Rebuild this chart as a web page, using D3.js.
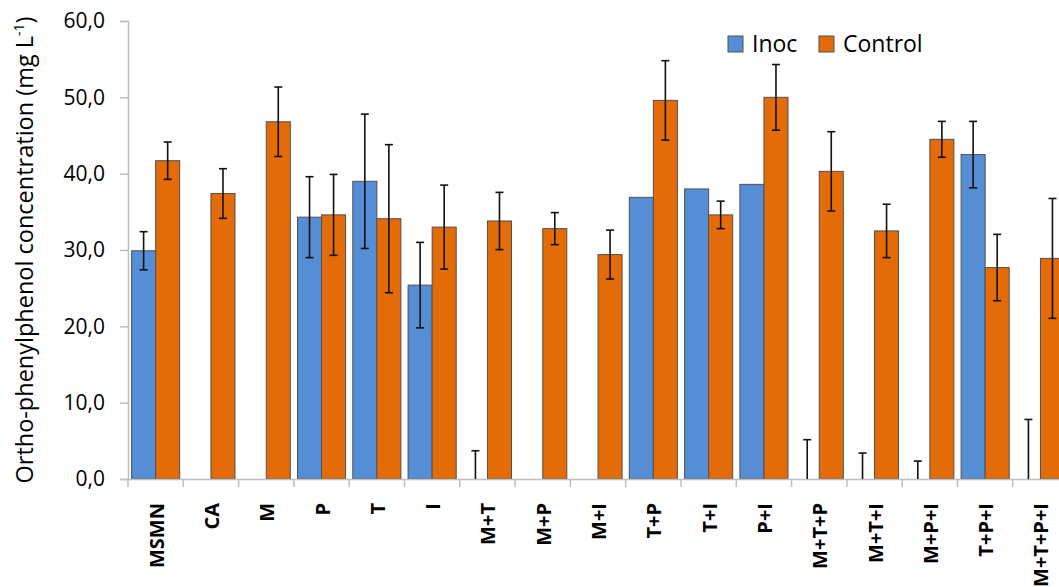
<!DOCTYPE html>
<html>
<head>
<meta charset="utf-8">
<script src="https://cdn.jsdelivr.net/npm/d3@7"></script>
<style>
  body { margin: 0; background: #fff; }
  text { font-family: "Open Sans", "Noto Sans", sans-serif; }
</style>
</head>
<body>
<svg id="chart" width="1059" height="587"></svg>
<script>
const categories = ["MSMN", "CA", "M", "P", "T", "I", "M+T", "M+P", "M+I", "T+P", "T+I", "P+I", "M+T+P", "M+T+I", "M+P+I", "T+P+I", "M+T+P+I"];
const series = ["Inoc", "Control"];
const inocValues = [29.9, 0, 0, 34.3, 39.0, 25.4, 0, 0, 0, 36.9, 38.0, 38.6, 0, 0, 0, 42.5, 0];
const inocErrors = [2.5, 0, 0, 5.3, 8.8, 5.6, 3.7, 0, 0, 0, 0, 0, 5.15, 3.4, 2.35, 4.35, 7.8];
const controlValues = [41.7, 37.4, 46.8, 34.6, 34.1, 33.0, 33.8, 32.8, 29.4, 49.6, 34.6, 50.0, 40.3, 32.5, 44.5, 27.7, 28.9];
const controlErrors = [2.45, 3.25, 4.55, 5.3, 9.7, 5.5, 3.75, 2.1, 3.2, 5.2, 1.8, 4.3, 5.2, 3.5, 2.35, 4.35, 7.85];
const yTicks = [0, 10, 20, 30, 40, 50, 60];

const colors = { Inoc: "#558ed5", Control: "#e36c09" };

const svg = d3.select("#chart");
const plotLeft = 128, plotBottom = 479, plotTop = 21, step = 55.3;

const x = d3.scaleBand()
    .domain(categories)
    .range([plotLeft, plotLeft + step * categories.length])
    .padding(0);

const xs = d3.scaleBand()
    .domain(series)
    .range([0, x.bandwidth()])
    .paddingInner(0)
    .paddingOuter(0.15);

const y = d3.scaleLinear().domain([0, 60]).range([plotBottom, plotTop]);

const fmt = v => d3.format(".1f")(v).replace(".", ",");

// y axis
const yAxis = svg.append("g")
    .attr("transform", `translate(${plotLeft},0)`)
    .call(d3.axisLeft(y).tickValues(yTicks).tickFormat(fmt).tickSize(8).tickPadding(15));
yAxis.select(".domain").attr("stroke", "#bfbfbf").attr("stroke-width", 1.5);
yAxis.selectAll(".tick line").attr("stroke", "#bfbfbf").attr("stroke-width", 1.5);
yAxis.selectAll(".tick text")
    .attr("font-size", "21px")
    .attr("fill", "#000")
    .attr("font-family", "Open Sans, sans-serif");

// rows of data
const rows = categories.map((c, i) => [
    { cat: c, key: "Inoc", v: inocValues[i], e: inocErrors[i] },
    { cat: c, key: "Control", v: controlValues[i], e: controlErrors[i] }
]).flat();

const bars = svg.append("g");
bars.selectAll("rect")
    .data(rows.filter(d => d.v > 0))
    .join("rect")
    .attr("x", d => x(d.cat) + xs(d.key))
    .attr("width", xs.bandwidth())
    .attr("y", d => y(d.v))
    .attr("height", d => y(0) - y(d.v))
    .attr("fill", d => colors[d.key])
    .attr("stroke", "#505050")
    .attr("stroke-width", 1);

// x axis (drawn over bar bottoms)
const xAxis = svg.append("g")
    .attr("transform", `translate(0,${plotBottom})`)
    .call(d3.axisBottom(x).tickSize(0).tickFormat(""));
xAxis.select(".domain").attr("stroke", "#bfbfbf").attr("stroke-width", 1.5);
svg.append("g")
    .selectAll("line")
    .data(categories.concat(["end"]))
    .join("line")
    .attr("x1", (d, i) => plotLeft + i * x.step())
    .attr("x2", (d, i) => plotLeft + i * x.step())
    .attr("y1", plotBottom)
    .attr("y2", plotBottom + 8)
    .attr("stroke", "#bfbfbf")
    .attr("stroke-width", 1.5);

svg.append("g")
    .selectAll("text")
    .data(categories)
    .join("text")
    .attr("transform", d => `translate(${x(d) + x.bandwidth() / 2 + 8},503) rotate(-90)`)
    .attr("text-anchor", "end")
    .attr("font-size", "20px")
    .attr("font-weight", "bold")
    .attr("font-family", "Liberation Sans, Arial, sans-serif")
    .text(d => d);

// error bars
const errs = svg.append("g").attr("stroke", "#111").attr("stroke-width", 1.6);
const cap = 4;
rows.filter(d => d.e > 0).forEach(d => {
    const cx = x(d.cat) + xs(d.key) + xs.bandwidth() / 2;
    const hi = d.v + d.e, lo = Math.max(0, d.v - d.e);
    errs.append("line").attr("x1", cx).attr("x2", cx).attr("y1", y(hi)).attr("y2", y(lo));
    errs.append("line").attr("x1", cx - cap).attr("x2", cx + cap).attr("y1", y(hi)).attr("y2", y(hi));
    if (d.v - d.e > 0)
        errs.append("line").attr("x1", cx - cap).attr("x2", cx + cap).attr("y1", y(lo)).attr("y2", y(lo));
});

// y axis title
const title = svg.append("text")
    .attr("transform", `translate(33,${(plotTop + plotBottom) / 2}) rotate(-90)`)
    .attr("text-anchor", "middle")
    .attr("font-size", "23.5px")
    .attr("fill", "#000");
title.append("tspan").text("Ortho-phenylphenol concentration (mg L");
title.append("tspan").attr("font-size", "14px").attr("dy", -9).text("-1");
title.append("tspan").attr("dy", 9).text(")");

// legend
const legend = svg.append("g").attr("transform", "translate(728,36)");
const legendX = [0, 91];
series.forEach((s, i) => {
    const g = legend.append("g").attr("transform", `translate(${legendX[i]},0)`);
    g.append("rect").attr("width", 15).attr("height", 16)
        .attr("fill", colors[s]).attr("stroke", "#505050").attr("stroke-width", 1);
    g.append("text").attr("x", 24).attr("y", 16)
        .attr("font-size", "23px").attr("fill", "#000").text(s);
});
</script>
</body>
</html>
